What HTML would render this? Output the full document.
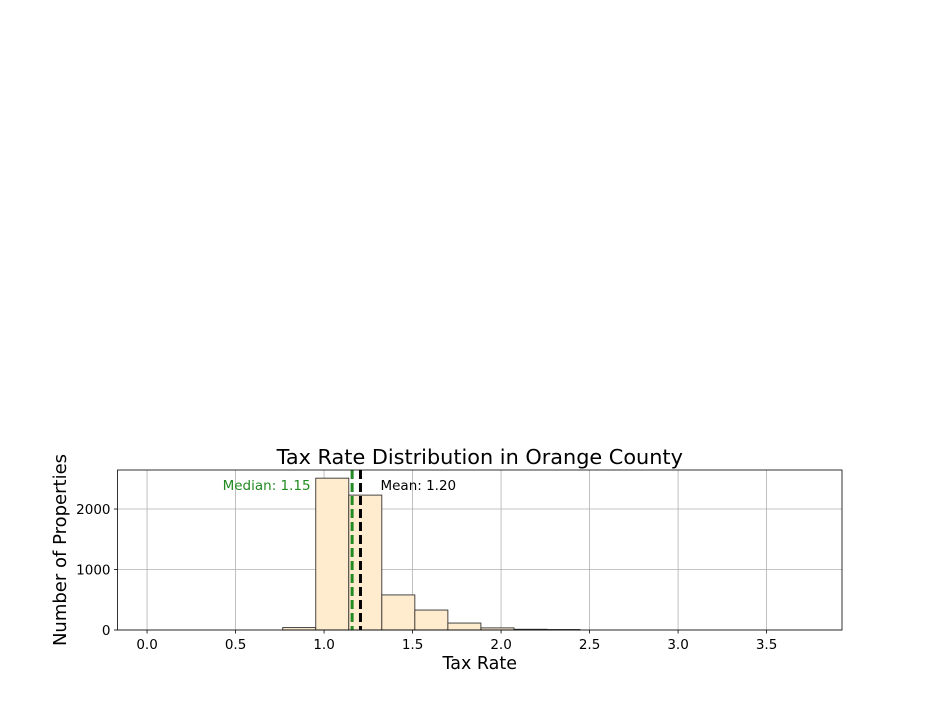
<!DOCTYPE html>
<html><head><meta charset="utf-8"><style>
html,body{margin:0;padding:0;background:#fff;}
svg{display:block;font-family:"DejaVu Sans","Liberation Sans",sans-serif;}
</style></head><body>
<svg id="chart" width="936" height="720" viewBox="0 0 936 720"></svg>
<script>
const binStart = 0.02;
const binWidth = 0.1866;
const counts = [0,0,0,0,40,2510,2230,580,330,115,35,12,8,0,0,0,0,0,0,0];
const xTicks = [0.0,0.5,1.0,1.5,2.0,2.5,3.0,3.5];
const xTickLabels = ["0.0","0.5","1.0","1.5","2.0","2.5","3.0","3.5"];
const yTicks = [0,1000,2000];
const yTickLabels = ["0","1000","2000"];
const medianVal = 1.15;
const meanVal = 1.20;

const L=117.5,R=842,T=470,B=630;
const xMin=-0.167,xMax=3.926,yMax=2645;
const xs=v=>L+(v-xMin)/(xMax-xMin)*(R-L);
const ys=v=>B-v/yMax*(B-T);
const svg=document.getElementById('chart');
const NS='http://www.w3.org/2000/svg';
function mk(tag,attrs,txt){const e=document.createElementNS(NS,tag);for(const k in attrs)e.setAttribute(k,attrs[k]);if(txt!==undefined)e.textContent=txt;svg.appendChild(e);return e;}

xTicks.forEach((t,i)=>{
  const g=mk('line',{x1:xs(t),x2:xs(t),y1:T,y2:B,stroke:'#b0b0b0','stroke-width':0.8});
  
  
  const tk=mk('line',{x1:xs(t),x2:xs(t),y1:B,y2:B+3.5,stroke:'#000','stroke-width':0.8});
  
  
  const lb=mk('text',{x:xs(t),y:B+19,'text-anchor':'middle','font-size':13.5,fill:'#000'},xTickLabels[i]);
  
  
});
yTicks.forEach((t,i)=>{
  const g=mk('line',{x1:L,x2:R,y1:ys(t),y2:ys(t),stroke:'#b0b0b0','stroke-width':0.8});
  
  
  const tk=mk('line',{x1:L-3.5,x2:L,y1:ys(t),y2:ys(t),stroke:'#000','stroke-width':0.8});
  
  
  const lb=mk('text',{x:L-7,y:ys(t)+5,'text-anchor':'end','font-size':13.5,fill:'#000'},yTickLabels[i]);
  
  
});
counts.forEach((c,i)=>{
  const x0=xs(binStart+i*binWidth),x1=xs(binStart+(i+1)*binWidth);
  const b=mk('rect',{x:x0,y:ys(c),width:x1-x0,height:B-ys(c),fill:'#ffebcd',stroke:'#333','stroke-width':0.9});
  
  
});
const ml=mk('line',{x1:xs(medianVal)+1.5,x2:xs(medianVal)+1.5,y1:T,y2:B,stroke:'#228b22','stroke-width':3,'stroke-dasharray':'9,4'});


const mn=mk('line',{x1:xs(meanVal)+1,x2:xs(meanVal)+1,y1:T,y2:B,stroke:'#000','stroke-width':3,'stroke-dasharray':'9,4'});


const mt=mk('text',{x:xs(medianVal)-40,y:490,'text-anchor':'end','font-size':13.5,fill:'#228b22'},'Median: '+medianVal.toFixed(2));


const mnt=mk('text',{x:xs(meanVal)+21,y:490,'text-anchor':'start','font-size':13.5,fill:'#000'},'Mean: '+meanVal.toFixed(2));


const fr=mk('rect',{x:L,y:T,width:R-L,height:B-T,fill:'none',stroke:'#000','stroke-width':0.8});


const tt=mk('text',{x:(L+R)/2,y:464,'text-anchor':'middle','font-size':20.8,fill:'#000'},'Tax Rate Distribution in Orange County');


const xt=mk('text',{x:(L+R)/2,y:669,'text-anchor':'middle','font-size':17.5,fill:'#000'},'Tax Rate');


const yt=mk('text',{x:0,y:0,'text-anchor':'middle','font-size':18,fill:'#000',transform:'translate(66,550) rotate(-90)'},'Number of Properties');


</script>
</body></html>
